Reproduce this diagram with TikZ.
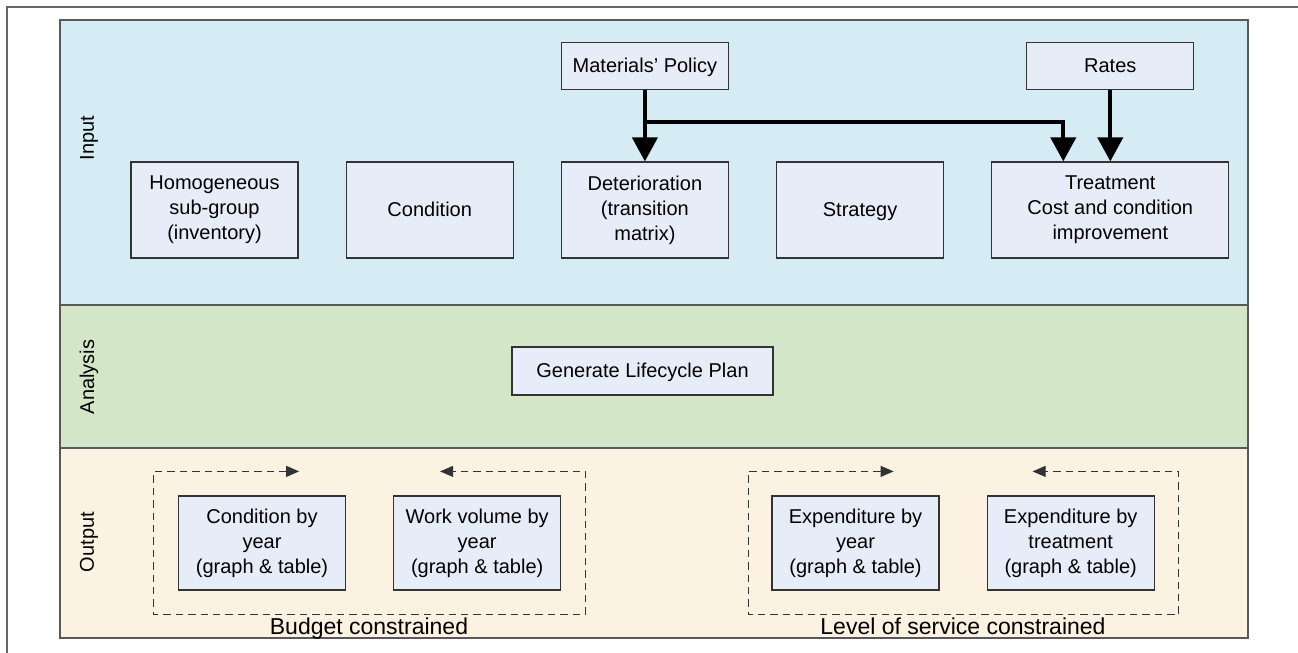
\documentclass[tikz,border=0pt]{standalone}
\usepackage{fontspec}
\setmainfont{Liberation Sans}
\usetikzlibrary{positioning,arrows.meta,calc}

\definecolor{inputbg}{RGB}{213,236,244}
\definecolor{analysisbg}{RGB}{211,230,199}
\definecolor{outputbg}{RGB}{251,242,225}
\definecolor{boxbg}{RGB}{231,237,248}

\begin{document}
\begin{tikzpicture}[x=0.5pt, y=-0.5pt, node distance=23.5pt,
    font=\fontsize{10}{12.5}\selectfont]
    \tikzset{box/.style = {draw=black!80, fill=boxbg, align=center, line width=0.6pt,
            minimum width=83.5pt, minimum height=48pt, inner sep=2pt},
        oneline/.style = {text height=1.6ex, text depth=0.45ex},
        band/.style = {draw=black!65, line width=0.7pt},
        bandlabel/.style = {rotate=90},
        flow/.style = {-{Triangle[width=12.5pt,length=12pt]}, line width=2pt},
        loopline/.style = {{Triangle[width=5.5pt,length=6.5pt]}-{Triangle[width=5.5pt,length=6.5pt]},
            draw=black!80, line width=0.55pt, dash pattern=on 3.7pt off 2.5pt},
        groupname/.style = {font=\fontsize{11.5}{14}\selectfont, anchor=base}}

    \useasboundingbox (0,0) rectangle (1298,653);

    % frame and bands
    \draw[black!60, line width=0.7pt] (1298,7) -- (7,7) -- (7,653);
    \draw[band, fill=inputbg] (60,20) rectangle (1248,305);
    \draw[band, fill=analysisbg] (60,305) rectangle (1248,448);
    \draw[band, fill=outputbg] (60,448) rectangle (1248,638);

    \node[bandlabel] (input) at (89,138) {Input};
    \node[bandlabel] (analysis) at (89,377) {Analysis};
    \node[bandlabel] (output) at (89,542) {Output};

    % input
    \node[box] (homog) at (214.5,210) {Homogeneous\\sub-group\\(inventory)};
    \node[box, oneline, right=of homog] (cond) {Condition};
    \node[box, right=of cond] (deter) {Deterioration\\(transition\\matrix)};
    \node[box, oneline, right=of deter] (strat) {Strategy};
    \node[box, right=of strat, minimum width=118.5pt] (treat) {Treatment\\Cost and condition\\improvement};
    \node[box, oneline, above=35.5pt of deter, minimum height=23.5pt] (matpol) {Materials' Policy};
    \node[box, oneline, above=35.5pt of treat, minimum height=23.5pt] (rates) {Rates};

    \coordinate (branch) at ($(matpol.south)!0.45!(deter.north)$);
    \draw[flow] (matpol) -- (deter);
    \draw[flow] (branch) -| ([xshift=-23.5pt]treat.north);
    \draw[flow] (rates) -- (treat);

    % analysis
    \node[box, oneline, minimum width=130.5pt, minimum height=24pt] (plan) at (642.5,371) {Generate Lifecycle Plan};

    % output
    \node[box, minimum height=47pt] (condyear) at (262,543) {Condition by\\year\\(graph \& table)};
    \node[box, minimum height=47pt, right=of condyear] (workyear) {Work volume by\\year\\(graph \& table)};
    \node[box, minimum height=47pt] (expyear) at (855.5,543) {Expenditure by\\year\\(graph \& table)};
    \node[box, minimum height=47pt, right=of expyear] (exptreat) {Expenditure by\\treatment\\(graph \& table)};

    \draw[loopline] ([shift={(-23.5pt,12pt)}]condyear.north east) -- ([shift={(-12pt,12pt)}]condyear.north west)
        -- ([shift={(-12pt,-12pt)}]condyear.south west) -- ([shift={(12pt,-12pt)}]workyear.south east)
        -- ([shift={(12pt,12pt)}]workyear.north east) -- ([shift={(23.5pt,12pt)}]workyear.north west);
    \draw[loopline] ([shift={(-23pt,12pt)}]expyear.north east) -- ([shift={(-11.5pt,12pt)}]expyear.north west)
        -- ([shift={(-11.5pt,-12pt)}]expyear.south west) -- ([shift={(12pt,-12pt)}]exptreat.south east)
        -- ([shift={(12pt,12pt)}]exptreat.north east) -- ([shift={(23pt,12pt)}]exptreat.north west);

    \node[groupname] (budget) at (369,634) {Budget constrained};
    \node[groupname] (service) at (963,634) {Level of service constrained};
\end{tikzpicture}
\end{document}
